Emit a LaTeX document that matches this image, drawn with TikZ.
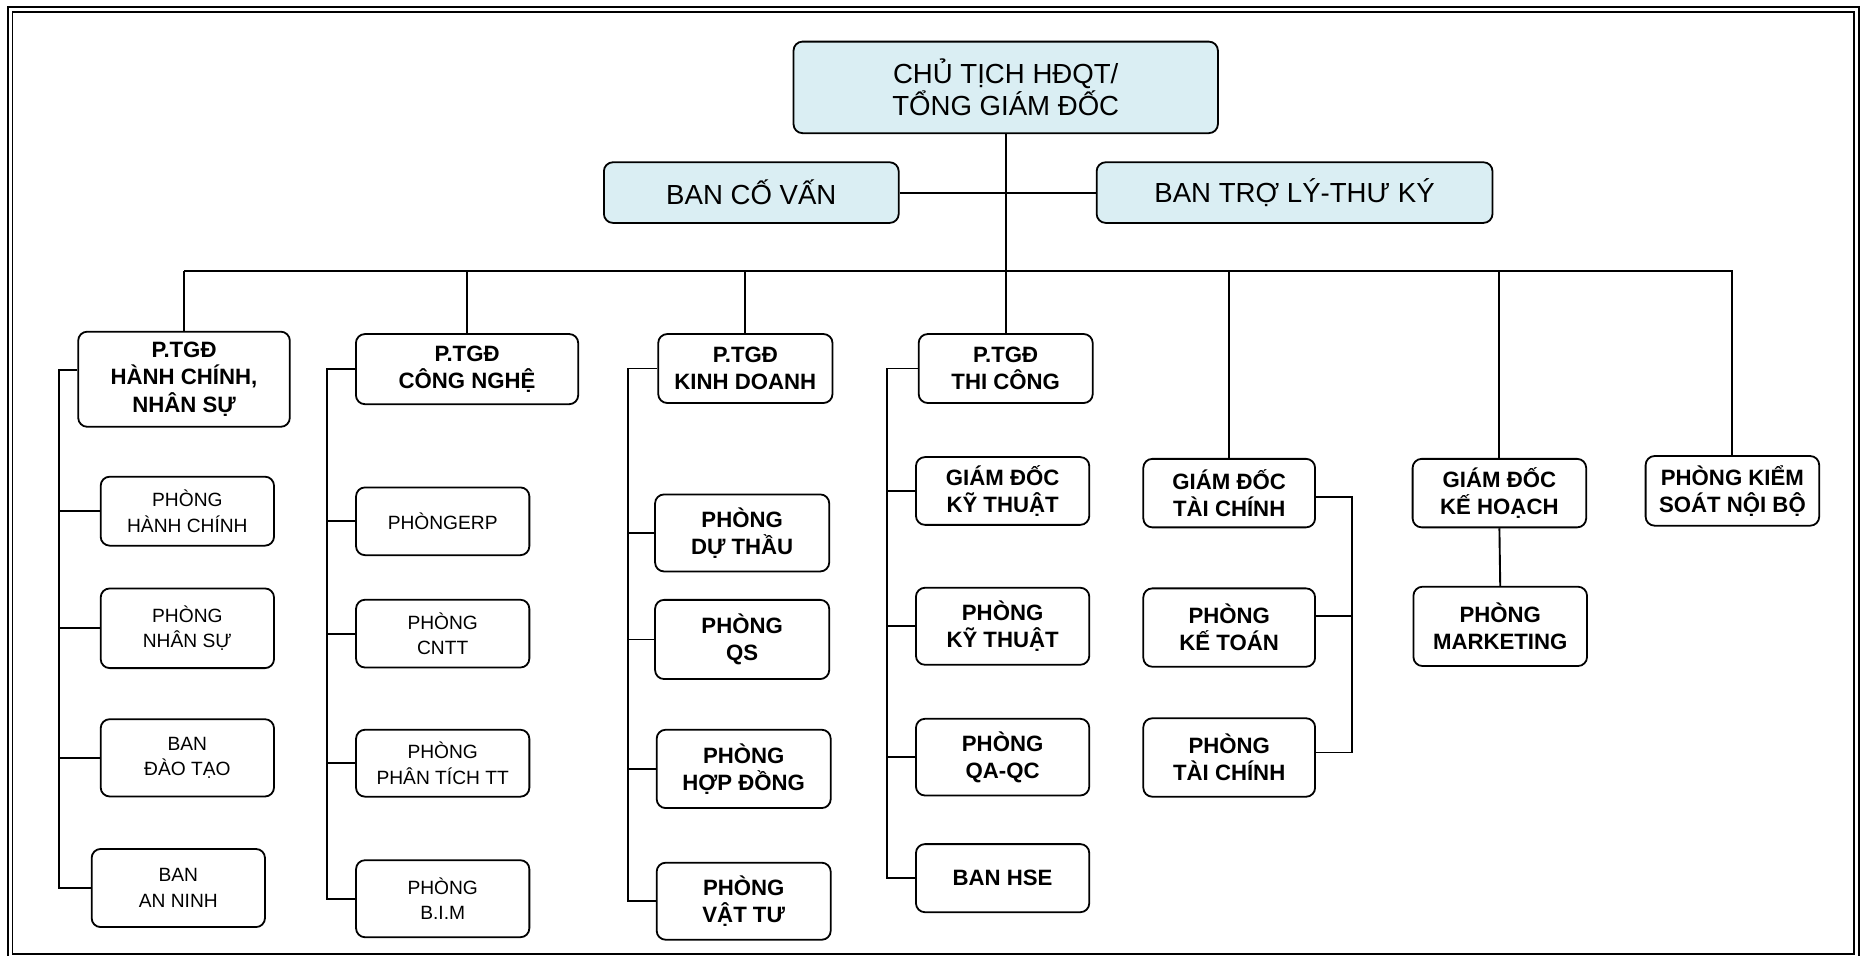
\documentclass[tikz,border=0pt]{standalone}
\usepackage{fontspec}
\setmainfont{Liberation Sans}
\definecolor{hdqtblue}{HTML}{DAEEF3}

\tikzset{every picture/.style={line width=0.9pt}}
\tikzset{
  orgbox/.style 2 args={draw, rounded corners=4.5pt, align=center, inner sep=0pt,
    minimum width=#1*0.5944pt, minimum height=#2*0.5944pt},
  topfont/.style={font=\fontsize{13.8}{16}\selectfont},
  headfont/.style={font=\bfseries\fontsize{11.1}{13.6}\selectfont},
  unitfont/.style={font=\fontsize{9.6}{12.8}\selectfont},
  link/.style={line width=0.95pt},
}

\begin{document}
\begin{tikzpicture}[x=0.5944pt,y=0.5944pt,yscale=-1,xscale=1]
    \useasboundingbox (0,0) rectangle (1568,804);

    %Shape: Double Frame
    \draw [line width=1pt] (6.7,5.5) rectangle (1564,808);
    \draw [line width=0.9pt] (10.5,9.8) rectangle (1559.8,802.5);

    %Shape: Top level
    \node (top) at (846,73.5) [orgbox={357}{77}, topfont, fill=hdqtblue] {CHỦ TỊCH HĐQT/\\TỔNG GIÁM ĐỐC};
    \node (bcv) at (632,162) [orgbox={248}{51}, topfont, fill=hdqtblue] {BAN CỐ VẤN};
    \node (btl) at (1089,162) [orgbox={333}{51}, topfont, fill=hdqtblue] {BAN TRỢ LÝ-THƯ KÝ};

    %Shape: P.TGD and directors
    \node (h1) at (154.8,319) [orgbox={178}{80}, headfont] {P.TGĐ\\HÀNH CHÍNH,\\NHÂN SỰ};
    \node (h2) at (392.9,310.5) [orgbox={187}{59}, headfont] {P.TGĐ\\CÔNG NGHỆ};
    \node (h3) at (627,310) [orgbox={146.6}{58}, headfont] {P.TGĐ\\KINH DOANH};
    \node (h4) at (846,310) [orgbox={146.4}{58}, headfont] {P.TGĐ\\THI CÔNG};
    \node (gdtc) at (1034,414.8) [orgbox={144.5}{57.6}, headfont] {GIÁM ĐỐC\\TÀI CHÍNH};
    \node (gdkh) at (1261.3,414.8) [orgbox={146}{57.6}, headfont] {GIÁM ĐỐC\\KẾ HOẠCH};
    \node (ks) at (1457.3,412.9) [orgbox={146}{58.6}, headfont] {PHÒNG KIỂM\\SOÁT NỘI BỘ};

    %Shape: Column 1
    \node (hc) at (157.6,430) [orgbox={145.8}{58}, unitfont] {PHÒNG\\HÀNH CHÍNH};
    \node (ns) at (157.6,528.5) [orgbox={145.8}{67}, unitfont] {PHÒNG\\NHÂN SỰ};
    \node (dt) at (157.6,637.5) [orgbox={145.8}{65}, unitfont] {BAN\\ĐÀO TẠO};
    \node (an) at (150,747) [orgbox={145.8}{65.7}, unitfont] {BAN\\AN NINH};

    %Shape: Column 2
    \node (erp) at (372.4,438.5) [orgbox={145.8}{57}, unitfont] {PHÒNGERP};
    \node (cntt) at (372.4,533) [orgbox={145.8}{57}, unitfont] {PHÒNG\\CNTT};
    \node (pttt) at (372.4,642) [orgbox={145.8}{56.3}, unitfont] {PHÒNG\\PHÂN TÍCH TT};
    \node (bim) at (372.4,756) [orgbox={145.8}{64.8}, unitfont] {PHÒNG\\B.I.M};

    %Shape: Column 3
    \node (dtk) at (624.3,448.3) [orgbox={146.5}{64.8}, headfont] {PHÒNG\\DỰ THẦU};
    \node (qs) at (624.3,537.9) [orgbox={146.5}{66.6}, headfont] {PHÒNG\\QS};
    \node (hd) at (625.6,646.8) [orgbox={146.4}{65.9}, headfont] {PHÒNG\\HỢP ĐỒNG};
    \node (vt) at (625.6,758.1) [orgbox={146.4}{64.8}, headfont] {PHÒNG\\VẬT TƯ};

    %Shape: Column 4
    \node (gdkt) at (843.4,413) [orgbox={145.8}{57}, headfont] {GIÁM ĐỐC\\KỸ THUẬT};
    \node (pkt) at (843.4,526.8) [orgbox={145.8}{64.8}, headfont] {PHÒNG\\KỸ THUẬT};
    \node (qaqc) at (843.4,636.9) [orgbox={145.8}{64.5}, headfont] {PHÒNG\\QA-QC};
    \node (hse) at (843.4,738.7) [orgbox={145.8}{57.3}, headfont] {BAN HSE};

    %Shape: Column 5 and 6
    \node (kt) at (1034,527.9) [orgbox={144.5}{65.9}, headfont] {PHÒNG\\KẾ TOÁN};
    \node (ptc) at (1034,637.2) [orgbox={144.5}{66}, headfont] {PHÒNG\\TÀI CHÍNH};
    \node (mk) at (1262,526.9) [orgbox={146}{66.7}, headfont] {PHÒNG\\MARKETING};

    %Straight Lines: top links
    \draw [link] (top.south) -- (h4.north);
    \draw [link] (bcv.east) -- (btl.west);

    %Straight Lines: main bus
    \coordinate (busL) at (155,228);
    \coordinate (busR) at (1458,228);
    \draw [link] (busL) -- (busR);
    \foreach \n in {h1,h2,h3,gdtc,gdkh,ks}
      \draw [link] (\n.north) -- (\n.north |- busL);

    %Straight Lines: column buses
    \coordinate (bus1) at (50,311);
    \draw [link] (h1.west |- bus1) -- (bus1) |- (an.west);
    \foreach \n in {hc,ns,dt}
      \draw [link] (\n.west) -- (\n.west -| bus1);

    \coordinate (bus2) at (275.3,310.5);
    \draw [link] (h2.west) -- (bus2) |- (bim.west);
    \foreach \n in {erp,cntt,pttt}
      \draw [link] (\n.west) -- (\n.west -| bus2);

    \coordinate (bus3) at (528,310);
    \draw [link] (h3.west) -- (bus3) |- (vt.west);
    \foreach \n in {dtk,qs,hd}
      \draw [link] (\n.west) -- (\n.west -| bus3);

    \coordinate (bus4) at (746,310);
    \draw [link] (h4.west) -- (bus4) |- (hse.west);
    \foreach \n in {gdkt,pkt,qaqc}
      \draw [link] (\n.west) -- (\n.west -| bus4);

    %Straight Lines: finance bracket
    \coordinate (bus5) at (1137,418);
    \coordinate (tick5) at (1137,518);
    \coordinate (end5) at (1137,633);
    \draw [link] (gdtc.east |- bus5) -- (bus5) -- (end5) -- (ptc.east |- end5);
    \draw [link] (kt.east |- tick5) -- (tick5);

    \draw [link] (gdkh.south) -- (mk.north);

\end{tikzpicture}
\end{document}
